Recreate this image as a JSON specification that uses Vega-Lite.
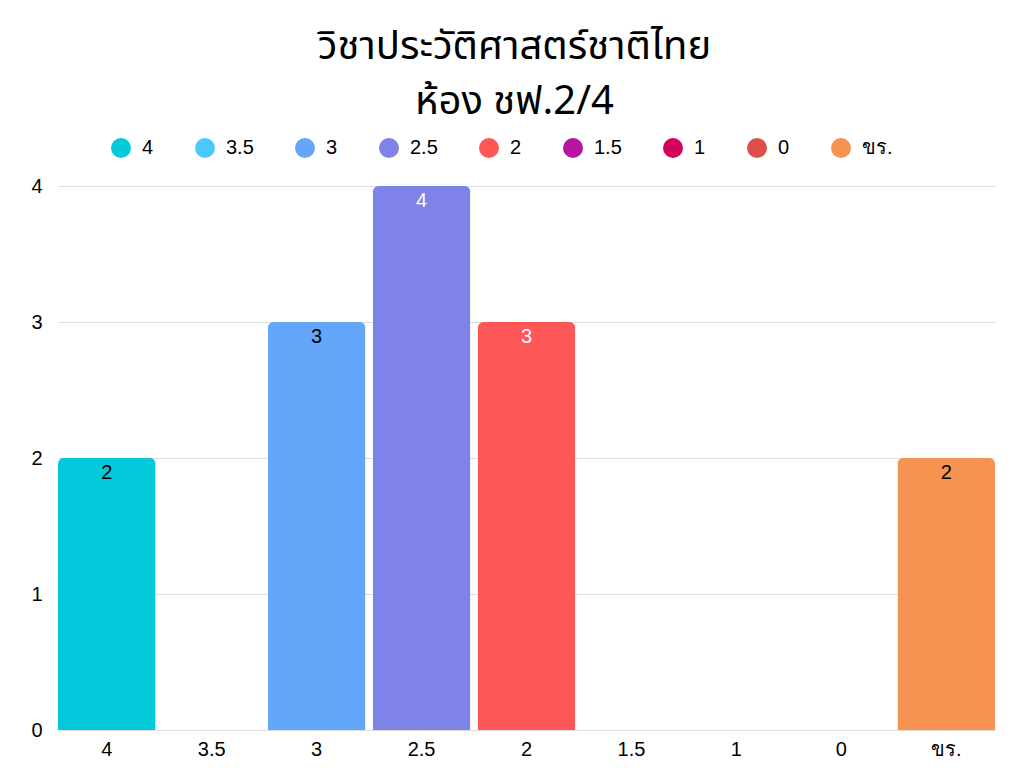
{
  "$schema": "https://vega.github.io/schema/vega-lite/v6.json",
  "autosize": {"type": "none"},
  "width": 937,
  "height": 544,
  "padding": {"left": 58, "top": 186, "right": 29, "bottom": 38},
  "background": "#ffffff",
  "title": {
    "text": ["วิชาประวัติศาสตร์ชาติไทย", "ห้อง ชฟ.2/4"],
    "fontSize": 40,
    "fontWeight": "normal",
    "font": "Noto Sans Thai, Noto Sans",
    "color": "#000000",
    "lineHeight": 55,
    "anchor": "middle",
    "dx": -12,
    "offset": 16
  },
  "data": {
    "values": [
      {"grade": "4", "count": 2},
      {"grade": "3.5", "count": 0},
      {"grade": "3", "count": 3},
      {"grade": "2.5", "count": 4},
      {"grade": "2", "count": 3},
      {"grade": "1.5", "count": 0},
      {"grade": "1", "count": 0},
      {"grade": "0", "count": 0},
      {"grade": "ขร.", "count": 2}
    ]
  },
  "encoding": {
    "x": {
      "field": "grade",
      "type": "nominal",
      "sort": null,
      "title": null,
      "scale": {"paddingInner": 0.07, "paddingOuter": 0},
      "axis": {
        "labelAngle": 0,
        "ticks": false,
        "domainColor": "#dddddd",
        "labelFontSize": 20,
        "labelFont": "Liberation Sans",
        "labelColor": "#000000",
        "labelPadding": 9
      }
    },
    "y": {
      "field": "count",
      "type": "quantitative",
      "title": null,
      "scale": {"domain": [0, 4]},
      "axis": {
        "tickCount": 4,
        "ticks": false,
        "domain": false,
        "gridColor": "#dddddd",
        "labelFontSize": 20,
        "labelFont": "Liberation Sans",
        "labelColor": "#000000",
        "labelPadding": 16
      }
    }
  },
  "layer": [
    {
      "mark": {"type": "bar", "cornerRadiusTopLeft": 6, "cornerRadiusTopRight": 6},
      "encoding": {
        "color": {
          "field": "grade",
          "type": "nominal",
          "sort": null,
          "scale": {
            "domain": ["4", "3.5", "3", "2.5", "2", "1.5", "1", "0", "ขร."],
            "range": ["#03C9DB", "#4DC8FD", "#64A6FA", "#7F82E7", "#FF5757", "#B5159F", "#D1035D", "#DF4F4A", "#F79351"]
          },
          "legend": {
            "orient": "none",
            "legendX": 53,
            "legendY": -48,
            "direction": "horizontal",
            "title": null,
            "symbolType": "circle",
            "symbolSize": 400,
            "symbolStrokeWidth": 0,
            "labelFontSize": 20,
            "labelFont": "Liberation Sans",
            "labelColor": "#000000",
            "labelOffset": 11,
            "columnPadding": 41
          }
        }
      }
    },
    {
      "transform": [{"filter": "datum.count > 0"}],
      "mark": {"type": "text", "baseline": "top", "dy": 5, "fontSize": 20, "font": "Liberation Sans"},
      "encoding": {
        "text": {"field": "count", "type": "quantitative"},
        "color": {
          "condition": {"test": "datum.grade == '2.5' || datum.grade == '2'", "value": "#ffffff"},
          "value": "#000000"
        }
      }
    }
  ],
  "config": {
    "view": {"stroke": null}
  }
}
